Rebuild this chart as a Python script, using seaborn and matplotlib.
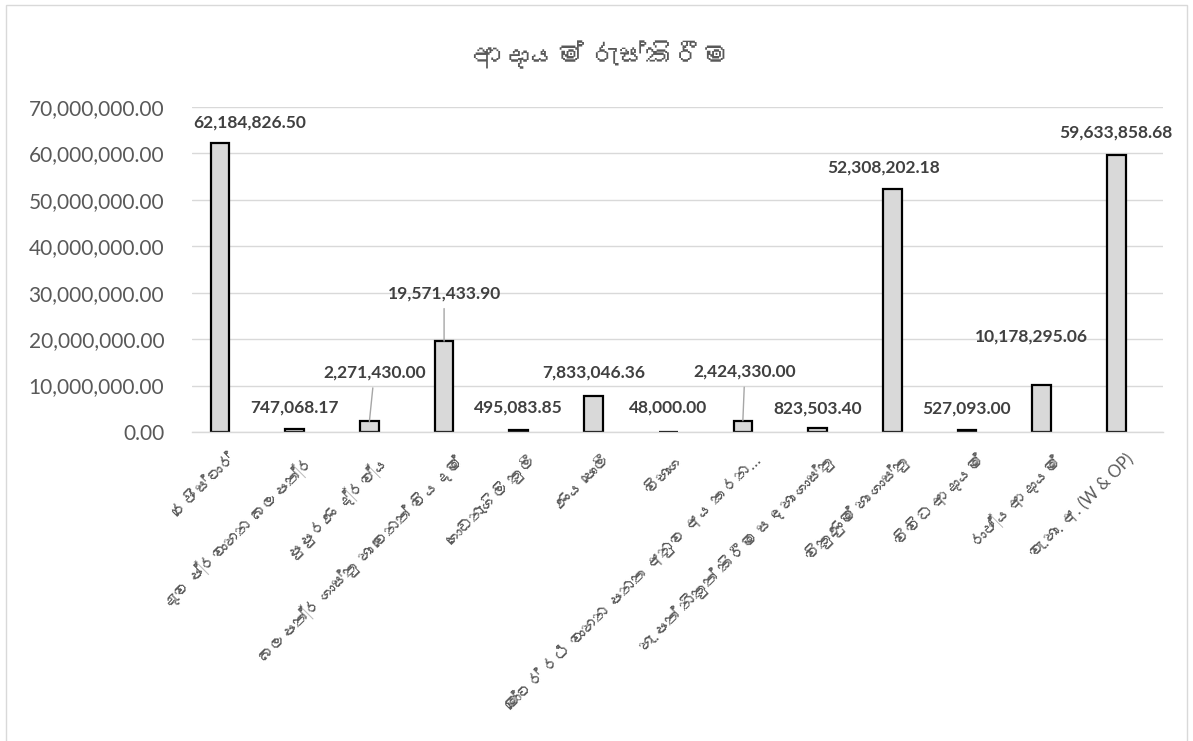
import numpy as np
import pandas as pd
import matplotlib
matplotlib.use("Agg")
import matplotlib.pyplot as plt
import matplotlib.ticker as mticker
from matplotlib import font_manager
from matplotlib.patches import Rectangle
import seaborn as sns

title = "ආදායම් රැස්කිරීම"

categories = [
    "රෙජිස්ටාර්",
    "දැව ප්‍රවාහන බලපත්‍ර",
    "පුපුරණ ද්‍රව්‍ය",
    "බලපත්‍ර ගාස්තු හා වෙනත් වියදම්",
    "ගොඩනැගිලි කුලී",
    "ණය පොලී",
    "විභාග",
    "මෝටර් රථ වාහන පනත අනුව අය කරන…",
    "හැ.පත් නිකුත් කිරීම සඳහා ගාස්තු",
    "විකුණුම් හා ගාස්තු",
    "විවිධ ආදායම්",
    "රාජ්‍ය ආදායම්",
    "වැ.හා. අ. (W & OP)",
]

values = [
    62184826.50, 747068.17, 2271430.00, 19571433.90, 495083.85,
    7833046.36, 48000.00, 2424330.00, 823503.40, 52308202.18,
    527093.00, 10178295.06, 59633858.68,
]

# label offsets from bar top, in pixels (dx right, dy up), and leader-line flag
label_dx = [30, 0, 5, 0, 0, 0, 0, 2, 0, -9, 0, -10, 0]
label_dy = [21, 21, 49, 48, 22, 23, 24, 49, 20, 22, 21, 48, 23]
leader = [False, False, True, True, False, False, False, True, False, False, False, False, False]

# find a font that has Sinhala glyphs, if any is installed
sinhala_font = None
for fe in font_manager.fontManager.ttflist:
    try:
        cmap = matplotlib.ft2font.FT2Font(fe.fname).get_charmap()
        if 0x0D85 in cmap:
            sinhala_font = fe.name
            break
    except Exception:
        continue

sns.set_theme(style="white")
families = ["Lato"] + ([sinhala_font] if sinhala_font else []) + ["DejaVu Sans"]
plt.rcParams["font.family"] = families

# Excel chart had a second (empty) series, which pushes the bars left of the category centre
df = pd.DataFrame({
    "category": categories * 2,
    "value": values + [np.nan] * len(values),
    "series": ["a"] * len(values) + ["b"] * len(values),
})

fig = plt.figure(figsize=(11.93, 7.41), dpi=100)
ax = fig.add_axes([192 / 1193, 1 - 432 / 741, 971 / 1193, 325 / 741])

sns.barplot(data=df, x="category", y="value", hue="series", order=categories,
            hue_order=["a", "b"], palette={"a": "#d9d9d9", "b": "#d9d9d9"},
            edgecolor="black", linewidth=1.6, width=0.5, saturation=1,
            dodge=True, legend=False, ax=ax)

ax.set_ylim(0, 70000000)
ax.set_xlim(-0.5, len(categories) - 0.5)
ax.yaxis.set_major_locator(mticker.MultipleLocator(10000000))
ax.yaxis.set_major_formatter(mticker.FuncFormatter(lambda v, p: f"{v:,.2f}"))
ax.grid(axis="y", color="#d9d9d9", linewidth=1)
ax.set_axisbelow(True)
for s in ["top", "right", "left"]:
    ax.spines[s].set_visible(False)
ax.spines["bottom"].set_color("#d9d9d9")
ax.spines["bottom"].set_linewidth(1)
ax.tick_params(axis="both", length=0)
ax.tick_params(axis="y", labelsize=15, labelcolor="#595959", pad=20)
ax.set_xlabel("")
ax.set_ylabel("")
ax.set_xticks(range(len(categories)))
ax.set_xticklabels(categories, rotation=45, ha="right", rotation_mode="anchor",
                   fontsize=12, color="#595959")
ax.tick_params(axis="x", pad=14)

px = 72 / 100  # pixels to points
bars = [b for b in ax.containers[0]]
for i, v in enumerate(values):
    b = bars[i]
    xc = b.get_x() + b.get_width() / 2
    ax.annotate(f"{v:,.2f}", xy=(xc, b.get_height()),
                xytext=(label_dx[i] * px, label_dy[i] * px),
                textcoords="offset points", ha="center", va="center",
                fontsize=12.5, fontweight="bold", color="#404040",
                arrowprops=dict(arrowstyle="-", color="#a6a6a6", lw=1,
                                shrinkA=3, shrinkB=0) if leader[i] else None)

fig.text(601 / 1193, 1 - 56 / 741, title, ha="center", va="center", fontsize=20,
         fontweight="bold", color="#595959")

fig.patches.append(Rectangle((6 / 1193, -0.01), 1181 / 1193, 1 - 5 / 741 + 0.01,
                             transform=fig.transFigure, fill=False,
                             edgecolor="#d9d9d9", linewidth=1))

fig.savefig("out.png", dpi=100)
